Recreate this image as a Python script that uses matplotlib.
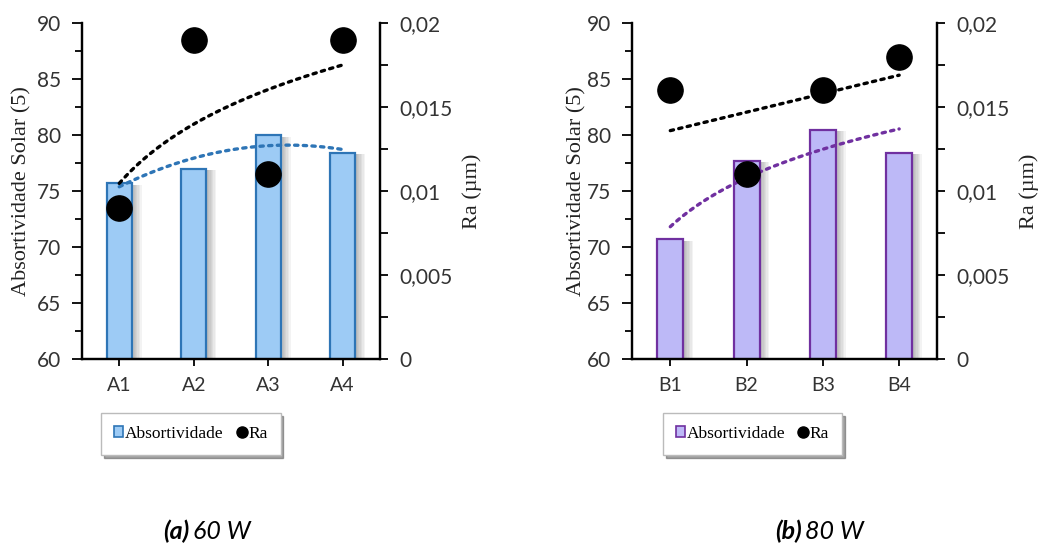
import numpy as np
import matplotlib
matplotlib.use("Agg")
import matplotlib.pyplot as plt
import matplotlib.patheffects as pe
from matplotlib.patches import Patch
from matplotlib.lines import Line2D
from matplotlib.ticker import MultipleLocator, FuncFormatter

# Sample groups and measurements
cats_a = ["A1", "A2", "A3", "A4"]
abs_a = [75.7, 77.0, 80.0, 78.4]
ra_a = [0.009, 0.019, 0.011, 0.019]

cats_b = ["B1", "B2", "B3", "B4"]
abs_b = [70.7, 77.7, 80.5, 78.4]
ra_b = [0.016, 0.011, 0.016, 0.018]

captions = [("(a)", "60 W"), ("(b)", "80 W")]

TICK_FONT = "Lato"
SERIF = "Liberation Serif"

panels = [
    dict(cats=cats_a, absv=abs_a, ra=ra_a, face="#9DCBF5", edge="#2E75B6",
         abs_fit="poly2", ra_fit="log", pos=[0.079, 0.347, 0.287, 0.611],
         ylab_x=-0.168, rlab_x=1.276, leg_x=0.184, cap_x=0.157, cap=captions[0]),
    dict(cats=cats_b, absv=abs_b, ra=ra_b, face="#BDB9F7", edge="#7030A0",
         abs_fit="log", ra_fit="linear", pos=[0.609, 0.347, 0.294, 0.611],
         ylab_x=-0.148, rlab_x=1.27, leg_x=0.725, cap_x=0.747, cap=captions[1]),
]


def trend(kind, x, y, xs):
    x = np.asarray(x, float)
    y = np.asarray(y, float)
    if kind == "log":
        c = np.polyfit(np.log(x), y, 1)
        return np.polyval(c, np.log(xs))
    if kind == "poly2":
        c = np.polyfit(x, y, 2)
        return np.polyval(c, xs)
    c = np.polyfit(x, y, 1)
    return np.polyval(c, xs)


def comma(v, _):
    if abs(v) < 1e-12:
        return "0"
    s = f"{v:.3f}".rstrip("0").rstrip(".")
    return s.replace(".", ",")


# soft drop shadow built from several faint offset copies
shadow = [pe.SimplePatchShadow(offset=(k, -1), shadow_rgbFace="0.35", alpha=0.07)
          for k in range(1, 8)] + [pe.Normal()]

fig = plt.figure(figsize=(10.38, 5.5), dpi=100)

for p in panels:
    ax = fig.add_axes(p["pos"])
    ax2 = ax.twinx()
    n = len(p["cats"])
    xpos = np.arange(n)
    xnum = np.arange(1, n + 1)

    bars = ax.bar(xpos, p["absv"], width=0.34, bottom=0,
                  color=p["face"], edgecolor=p["edge"], linewidth=1.6, zorder=2)
    for b in bars:
        b.set_path_effects(shadow)

    xs = np.linspace(1, n, 100)
    ax.plot(xs - 1, trend(p["abs_fit"], xnum, p["absv"], xs), color=p["edge"],
            lw=2.4, linestyle=(0, (1, 1.6)), dash_capstyle="round", zorder=3)

    ax2.plot(xs - 1, trend(p["ra_fit"], xnum, p["ra"], xs), color="black",
             lw=2.4, linestyle=(0, (1, 1.6)), dash_capstyle="round", zorder=3)
    ax2.scatter(xpos, p["ra"], s=330, color="black", zorder=4, clip_on=False)

    ax.set_xlim(-0.5, n - 0.5)
    ax.set_ylim(60, 90)
    ax2.set_ylim(0, 0.02)

    ax.set_xticks(xpos)
    ax.set_xticklabels(p["cats"], fontfamily=TICK_FONT, fontsize=14, color="#333333")
    ax.yaxis.set_major_locator(MultipleLocator(5))
    ax.yaxis.set_minor_locator(MultipleLocator(2.5))
    for lab in ax.get_yticklabels():
        lab.set_fontfamily(TICK_FONT)
        lab.set_fontsize(15)
        lab.set_color("#333333")
    ax.tick_params(axis="y", which="major", direction="out", length=7, width=1.3, pad=8)
    ax.tick_params(axis="y", which="minor", direction="out", length=5, width=1.3)
    ax.tick_params(axis="x", direction="out", length=5, width=1.3, pad=8)

    ax2.yaxis.set_major_locator(MultipleLocator(0.005))
    ax2.yaxis.set_minor_locator(MultipleLocator(0.0025))
    ax2.yaxis.set_major_formatter(FuncFormatter(comma))
    for lab in ax2.get_yticklabels():
        lab.set_fontfamily(TICK_FONT)
        lab.set_fontsize(15)
        lab.set_color("#333333")
    ax2.tick_params(axis="y", which="major", direction="out", length=6, width=1.3, pad=8)
    ax2.tick_params(axis="y", which="minor", direction="out", length=6, width=1.3)

    for a in (ax, ax2):
        a.spines["top"].set_visible(False)
        for s in ("left", "right", "bottom"):
            a.spines[s].set_linewidth(1.6)
            a.spines[s].set_color("black")

    ax.set_ylabel("Absortividade Solar (5)", fontfamily=SERIF, fontsize=16, color="#222222")
    ax.yaxis.set_label_coords(p["ylab_x"], 0.5)
    ax2.set_ylabel("Ra (µm)", fontfamily=SERIF, fontsize=16, color="#222222")
    ax2.yaxis.set_label_coords(p["rlab_x"], 0.5)

    handles = [Patch(facecolor=p["face"], edgecolor=p["edge"], linewidth=1.2),
               Line2D([], [], marker="o", color="black", linestyle="none", markersize=8)]
    leg = fig.legend(handles, ["Absortividade", "Ra"], loc="center",
                     bbox_to_anchor=(p["leg_x"], 0.211), ncol=2, frameon=True,
                     fancybox=False, shadow=True, handlelength=0.5, handleheight=0.6,
                     handletextpad=0.12, columnspacing=0.8, borderpad=0.75,
                     borderaxespad=0.0, prop={"family": SERIF, "size": 12.5})
    leg.get_frame().set_edgecolor("#BBBBBB")
    leg.get_frame().set_linewidth(1.0)

    fig.text(p["cap_x"], 0.012, p["cap"][0], fontfamily="Lato", fontstyle="italic",
             fontweight="bold", fontsize=18, ha="left", va="bottom")
    fig.text(p["cap_x"] + 0.029, 0.012, p["cap"][1], fontfamily="Lato", fontstyle="italic",
             fontsize=18, ha="left", va="bottom")

fig.savefig("out.png", dpi=100)
